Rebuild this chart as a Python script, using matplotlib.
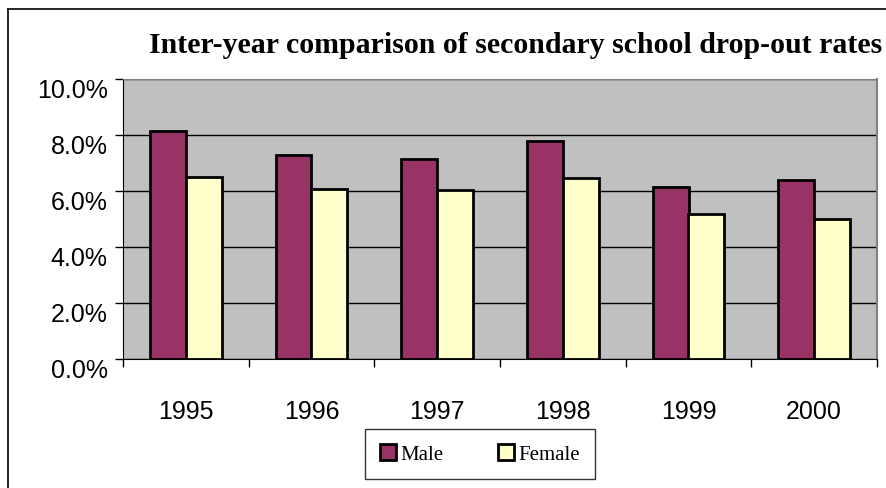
import matplotlib.pyplot as plt
import matplotlib.transforms as mtransforms
import numpy as np
from matplotlib.lines import Line2D
from matplotlib.ticker import PercentFormatter

years = ['1995', '1996', '1997', '1998', '1999', '2000']
male = [8.15, 7.29, 7.14, 7.80, 6.15, 6.40]
female = [6.49, 6.07, 6.05, 6.46, 5.18, 5.00]
y_ticks = [0, 2, 4, 6, 8, 10]

W, H = 887, 489
fig = plt.figure(figsize=(W / 100, H / 100), dpi=100)
fig.patch.set_facecolor('white')

# outer chart frame (left and top edges visible)
fig.add_artist(Line2D([8 / W, 8 / W], [0, 1 - 10 / H], color='black', lw=1.2, transform=fig.transFigure))
fig.add_artist(Line2D([8 / W, 1], [1 - 10 / H, 1 - 10 / H], color='black', lw=1.2, transform=fig.transFigure))

ax = fig.add_axes([123 / W, 1 - 360 / H, (877 - 123) / W, (360 - 80) / H])
ax.set_facecolor('#C0C0C0')

x = np.arange(len(years))
bw = 1 / 3.5
ax.bar(x - bw / 2, male, bw, color='#993366', edgecolor='black', linewidth=2, label='Male', zorder=3)
ax.bar(x + bw / 2, female, bw, color='#FFFFCC', edgecolor='black', linewidth=2, label='Female', zorder=3)

ax.set_xlim(-0.5, len(years) - 0.5)
ax.set_ylim(0, 10)
ax.set_yticks(y_ticks)
ax.yaxis.set_major_formatter(PercentFormatter(decimals=1))
ax.grid(axis='y', color='black', linewidth=1, zorder=1)
ax.set_axisbelow(True)

# category labels centred, tick marks on category boundaries
ax.set_xticks(x)
ax.set_xticklabels(years)
ax.tick_params(axis='x', which='major', length=0, pad=29, labelsize=18)
ax.set_xticks(np.arange(-0.5, len(years)), minor=True)
ax.tick_params(axis='x', which='minor', length=6, width=1, color='black', direction='out')
ax.tick_params(axis='y', length=6, width=1, color='black', direction='out', labelsize=18, pad=5)
for lab in ax.get_xticklabels() + ax.get_yticklabels():
    lab.set_fontfamily('Liberation Sans')

# Excel draws the value labels a little below their gridline
shift = mtransforms.ScaledTranslation(0, -9 / 100, fig.dpi_scale_trans)
for lab in ax.get_yticklabels():
    lab.set_transform(lab.get_transform() + shift)

ax.spines['left'].set_color('black')
ax.spines['bottom'].set_color('black')
ax.spines['top'].set_color('#808080')
ax.spines['right'].set_color('#808080')
ax.spines['right'].set_linewidth(1.5)

fig.text(516 / W, 1 - 53 / H, 'Inter-year comparison of secondary school drop-out rates',
         ha='center', va='baseline', fontsize=21.5, fontweight='bold', family='Liberation Serif')

leg = fig.legend(loc='center', bbox_to_anchor=(480 / W, 1 - 455 / H), ncol=2, frameon=True,
                 prop={'family': 'Liberation Serif', 'size': 15}, handlelength=0.8, handleheight=0.8,
                 handletextpad=0.2, columnspacing=2.6, fancybox=False, borderpad=0.7)
leg.get_frame().set_edgecolor('black')
leg.get_frame().set_linewidth(1)

fig.savefig('out.png', dpi=100)
